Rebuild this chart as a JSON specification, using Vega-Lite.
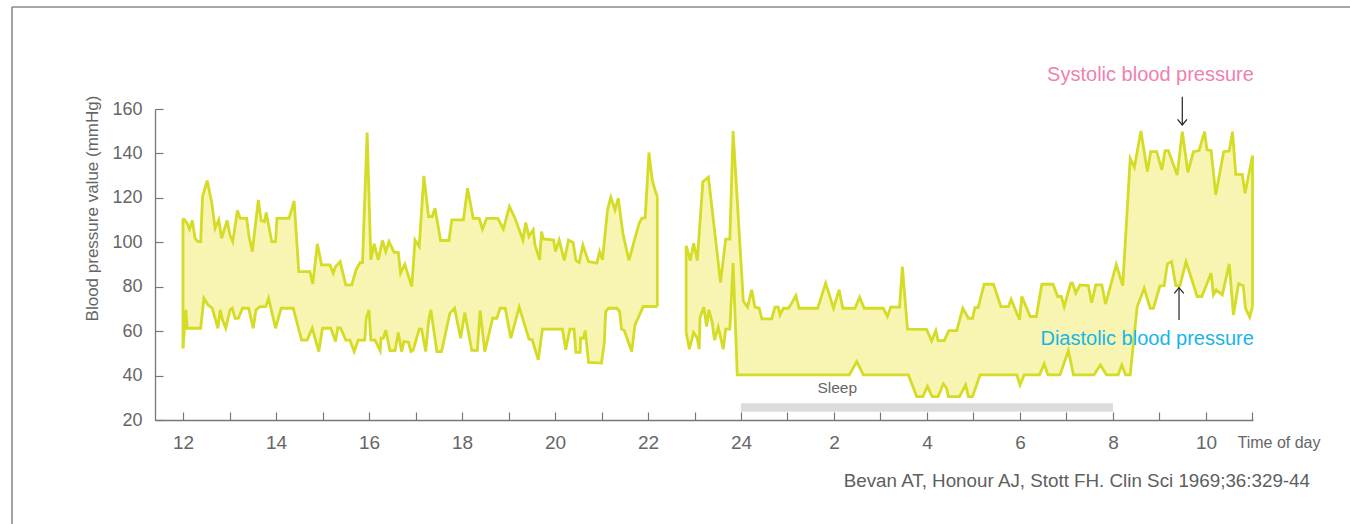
{
  "$schema": "https://vega.github.io/schema/vega-lite/v6.json",
  "width": 1098,
  "height": 311,
  "autosize": {"type": "none"},
  "padding": {"left": 155, "top": 109, "right": 97, "bottom": 104},
  "background": "white",
  "config": {"view": {"stroke": null}},
  "datasets": {
    "bp": [
      {"s":"S","g":1,"t":12.0,"v":110.8},{"s":"S","g":1,"t":12.08,"v":108.9},{"s":"S","g":1,"t":12.14,"v":105.9},{"s":"S","g":1,"t":12.2,"v":109.8},{"s":"S","g":1,"t":12.26,"v":101.8},{"s":"S","g":1,"t":12.32,"v":100.3},{"s":"S","g":1,"t":12.38,"v":100.3},{"s":"S","g":1,"t":12.42,"v":120.6},{"s":"S","g":1,"t":12.52,"v":127.8},{"s":"S","g":1,"t":12.62,"v":117.6},{"s":"S","g":1,"t":12.69,"v":106.3},{"s":"S","g":1,"t":12.77,"v":110.1},{"s":"S","g":1,"t":12.83,"v":101.8},{"s":"S","g":1,"t":12.95,"v":109.8},{"s":"S","g":1,"t":13.01,"v":103.3},{"s":"S","g":1,"t":13.07,"v":100.3},{"s":"S","g":1,"t":13.17,"v":114.3},{"s":"S","g":1,"t":13.23,"v":110.8},{"s":"S","g":1,"t":13.37,"v":110.8},{"s":"S","g":1,"t":13.42,"v":102.6},{"s":"S","g":1,"t":13.49,"v":95.8},{"s":"S","g":1,"t":13.62,"v":119.1},{"s":"S","g":1,"t":13.68,"v":109.8},{"s":"S","g":1,"t":13.75,"v":109.3},{"s":"S","g":1,"t":13.79,"v":113.4},{"s":"S","g":1,"t":13.91,"v":100.3},{"s":"S","g":1,"t":13.99,"v":100.3},{"s":"S","g":1,"t":14.02,"v":110.8},{"s":"S","g":1,"t":14.28,"v":110.8},{"s":"S","g":1,"t":14.39,"v":118.6},{"s":"S","g":1,"t":14.49,"v":86.8},{"s":"S","g":1,"t":14.73,"v":86.8},{"s":"S","g":1,"t":14.79,"v":81.3},{"s":"S","g":1,"t":14.89,"v":99.3},{"s":"S","g":1,"t":14.98,"v":89.8},{"s":"S","g":1,"t":15.16,"v":89.8},{"s":"S","g":1,"t":15.23,"v":86.1},{"s":"S","g":1,"t":15.28,"v":89.1},{"s":"S","g":1,"t":15.38,"v":91.3},{"s":"S","g":1,"t":15.5,"v":80.8},{"s":"S","g":1,"t":15.63,"v":80.8},{"s":"S","g":1,"t":15.72,"v":87.6},{"s":"S","g":1,"t":15.81,"v":90.9},{"s":"S","g":1,"t":15.86,"v":90.9},{"s":"S","g":1,"t":15.96,"v":149.4},{"s":"S","g":1,"t":16.04,"v":92.1},{"s":"S","g":1,"t":16.11,"v":99.3},{"s":"S","g":1,"t":16.2,"v":92.1},{"s":"S","g":1,"t":16.29,"v":100.8},{"s":"S","g":1,"t":16.36,"v":95.8},{"s":"S","g":1,"t":16.43,"v":100.3},{"s":"S","g":1,"t":16.54,"v":95.5},{"s":"S","g":1,"t":16.63,"v":95.5},{"s":"S","g":1,"t":16.68,"v":86.1},{"s":"S","g":1,"t":16.77,"v":90.1},{"s":"S","g":1,"t":16.92,"v":80.1},{"s":"S","g":1,"t":16.99,"v":101.0},{"s":"S","g":1,"t":17.08,"v":98.1},{"s":"S","g":1,"t":17.18,"v":129.9},{"s":"S","g":1,"t":17.28,"v":111.6},{"s":"S","g":1,"t":17.36,"v":111.6},{"s":"S","g":1,"t":17.42,"v":115.3},{"s":"S","g":1,"t":17.54,"v":100.8},{"s":"S","g":1,"t":17.72,"v":100.8},{"s":"S","g":1,"t":17.78,"v":110.1},{"s":"S","g":1,"t":18.03,"v":110.1},{"s":"S","g":1,"t":18.12,"v":124.3},{"s":"S","g":1,"t":18.24,"v":110.8},{"s":"S","g":1,"t":18.37,"v":110.8},{"s":"S","g":1,"t":18.44,"v":105.9},{"s":"S","g":1,"t":18.53,"v":110.8},{"s":"S","g":1,"t":18.77,"v":110.8},{"s":"S","g":1,"t":18.89,"v":105.9},{"s":"S","g":1,"t":19.02,"v":116.1},{"s":"S","g":1,"t":19.14,"v":110.8},{"s":"S","g":1,"t":19.31,"v":101.0},{"s":"S","g":1,"t":19.37,"v":108.9},{"s":"S","g":1,"t":19.44,"v":102.6},{"s":"S","g":1,"t":19.53,"v":105.6},{"s":"S","g":1,"t":19.57,"v":98.8},{"s":"S","g":1,"t":19.67,"v":92.1},{"s":"S","g":1,"t":19.71,"v":104.8},{"s":"S","g":1,"t":19.75,"v":101.5},{"s":"S","g":1,"t":19.97,"v":101.0},{"s":"S","g":1,"t":20.01,"v":95.8},{"s":"S","g":1,"t":20.09,"v":101.0},{"s":"S","g":1,"t":20.2,"v":91.8},{"s":"S","g":1,"t":20.29,"v":101.0},{"s":"S","g":1,"t":20.39,"v":99.9},{"s":"S","g":1,"t":20.45,"v":91.8},{"s":"S","g":1,"t":20.52,"v":90.9},{"s":"S","g":1,"t":20.6,"v":98.8},{"s":"S","g":1,"t":20.72,"v":91.3},{"s":"S","g":1,"t":20.9,"v":90.6},{"s":"S","g":1,"t":20.96,"v":95.8},{"s":"S","g":1,"t":21.02,"v":92.1},{"s":"S","g":1,"t":21.13,"v":114.6},{"s":"S","g":1,"t":21.2,"v":120.3},{"s":"S","g":1,"t":21.29,"v":114.6},{"s":"S","g":1,"t":21.36,"v":119.8},{"s":"S","g":1,"t":21.46,"v":104.1},{"s":"S","g":1,"t":21.59,"v":91.8},{"s":"S","g":1,"t":21.69,"v":99.6},{"s":"S","g":1,"t":21.81,"v":108.6},{"s":"S","g":1,"t":21.87,"v":110.8},{"s":"S","g":1,"t":21.94,"v":111.1},{"s":"S","g":1,"t":22.02,"v":140.4},{"s":"S","g":1,"t":22.09,"v":128.1},{"s":"S","g":1,"t":22.15,"v":123.6},{"s":"S","g":1,"t":22.2,"v":120.6},
      {"s":"D","g":1,"t":12.0,"v":52.3},{"s":"D","g":1,"t":12.06,"v":69.6},{"s":"D","g":1,"t":12.09,"v":61.3},{"s":"D","g":1,"t":12.38,"v":61.3},{"s":"D","g":1,"t":12.45,"v":74.8},{"s":"D","g":1,"t":12.54,"v":71.8},{"s":"D","g":1,"t":12.63,"v":70.3},{"s":"D","g":1,"t":12.69,"v":65.8},{"s":"D","g":1,"t":12.75,"v":61.3},{"s":"D","g":1,"t":12.8,"v":69.6},{"s":"D","g":1,"t":12.85,"v":65.0},{"s":"D","g":1,"t":12.92,"v":61.3},{"s":"D","g":1,"t":13.01,"v":69.6},{"s":"D","g":1,"t":13.06,"v":70.3},{"s":"D","g":1,"t":13.12,"v":65.8},{"s":"D","g":1,"t":13.19,"v":65.8},{"s":"D","g":1,"t":13.28,"v":70.3},{"s":"D","g":1,"t":13.41,"v":70.3},{"s":"D","g":1,"t":13.51,"v":61.3},{"s":"D","g":1,"t":13.57,"v":69.6},{"s":"D","g":1,"t":13.66,"v":71.0},{"s":"D","g":1,"t":13.78,"v":71.0},{"s":"D","g":1,"t":13.84,"v":74.8},{"s":"D","g":1,"t":13.99,"v":61.3},{"s":"D","g":1,"t":14.11,"v":70.3},{"s":"D","g":1,"t":14.37,"v":70.3},{"s":"D","g":1,"t":14.55,"v":56.0},{"s":"D","g":1,"t":14.67,"v":56.0},{"s":"D","g":1,"t":14.78,"v":61.3},{"s":"D","g":1,"t":14.92,"v":50.8},{"s":"D","g":1,"t":15.0,"v":61.3},{"s":"D","g":1,"t":15.18,"v":61.3},{"s":"D","g":1,"t":15.28,"v":55.3},{"s":"D","g":1,"t":15.33,"v":61.6},{"s":"D","g":1,"t":15.39,"v":61.3},{"s":"D","g":1,"t":15.5,"v":56.0},{"s":"D","g":1,"t":15.59,"v":56.0},{"s":"D","g":1,"t":15.68,"v":50.8},{"s":"D","g":1,"t":15.77,"v":56.0},{"s":"D","g":1,"t":15.91,"v":56.0},{"s":"D","g":1,"t":15.94,"v":65.8},{"s":"D","g":1,"t":16.0,"v":69.6},{"s":"D","g":1,"t":16.04,"v":56.0},{"s":"D","g":1,"t":16.13,"v":56.0},{"s":"D","g":1,"t":16.24,"v":51.2},{"s":"D","g":1,"t":16.26,"v":56.8},{"s":"D","g":1,"t":16.31,"v":56.8},{"s":"D","g":1,"t":16.36,"v":60.5},{"s":"D","g":1,"t":16.45,"v":51.2},{"s":"D","g":1,"t":16.56,"v":51.2},{"s":"D","g":1,"t":16.63,"v":59.4},{"s":"D","g":1,"t":16.7,"v":50.8},{"s":"D","g":1,"t":16.75,"v":55.3},{"s":"D","g":1,"t":16.85,"v":55.0},{"s":"D","g":1,"t":16.9,"v":50.8},{"s":"D","g":1,"t":16.95,"v":51.5},{"s":"D","g":1,"t":17.08,"v":60.9},{"s":"D","g":1,"t":17.13,"v":60.9},{"s":"D","g":1,"t":17.22,"v":50.8},{"s":"D","g":1,"t":17.28,"v":64.3},{"s":"D","g":1,"t":17.33,"v":69.6},{"s":"D","g":1,"t":17.46,"v":50.8},{"s":"D","g":1,"t":17.56,"v":50.8},{"s":"D","g":1,"t":17.74,"v":68.1},{"s":"D","g":1,"t":17.84,"v":70.3},{"s":"D","g":1,"t":17.97,"v":56.8},{"s":"D","g":1,"t":18.06,"v":68.4},{"s":"D","g":1,"t":18.21,"v":51.3},{"s":"D","g":1,"t":18.33,"v":51.3},{"s":"D","g":1,"t":18.39,"v":69.3},{"s":"D","g":1,"t":18.49,"v":50.8},{"s":"D","g":1,"t":18.66,"v":65.8},{"s":"D","g":1,"t":18.75,"v":65.8},{"s":"D","g":1,"t":18.82,"v":70.3},{"s":"D","g":1,"t":18.93,"v":70.3},{"s":"D","g":1,"t":19.05,"v":56.8},{"s":"D","g":1,"t":19.23,"v":70.8},{"s":"D","g":1,"t":19.44,"v":56.4},{"s":"D","g":1,"t":19.51,"v":56.1},{"s":"D","g":1,"t":19.64,"v":47.1},{"s":"D","g":1,"t":19.73,"v":60.9},{"s":"D","g":1,"t":20.16,"v":60.9},{"s":"D","g":1,"t":20.23,"v":51.6},{"s":"D","g":1,"t":20.32,"v":60.9},{"s":"D","g":1,"t":20.41,"v":60.9},{"s":"D","g":1,"t":20.45,"v":50.4},{"s":"D","g":1,"t":20.54,"v":50.4},{"s":"D","g":1,"t":20.55,"v":56.8},{"s":"D","g":1,"t":20.61,"v":56.8},{"s":"D","g":1,"t":20.65,"v":60.3},{"s":"D","g":1,"t":20.72,"v":45.9},{"s":"D","g":1,"t":21.0,"v":45.6},{"s":"D","g":1,"t":21.06,"v":54.6},{"s":"D","g":1,"t":21.09,"v":68.8},{"s":"D","g":1,"t":21.15,"v":70.3},{"s":"D","g":1,"t":21.33,"v":70.3},{"s":"D","g":1,"t":21.39,"v":68.8},{"s":"D","g":1,"t":21.43,"v":60.9},{"s":"D","g":1,"t":21.49,"v":60.3},{"s":"D","g":1,"t":21.65,"v":50.8},{"s":"D","g":1,"t":21.72,"v":62.8},{"s":"D","g":1,"t":21.9,"v":71.1},{"s":"D","g":1,"t":22.2,"v":71.1},
      {"s":"S","g":2,"t":22.82,"v":98.4},{"s":"S","g":2,"t":22.91,"v":91.8},{"s":"S","g":2,"t":22.98,"v":99.6},{"s":"S","g":2,"t":23.06,"v":91.8},{"s":"S","g":2,"t":23.18,"v":127.3},{"s":"S","g":2,"t":23.3,"v":129.3},{"s":"S","g":2,"t":23.56,"v":81.9},{"s":"S","g":2,"t":23.67,"v":101.4},{"s":"S","g":2,"t":23.76,"v":101.4},{"s":"S","g":2,"t":23.83,"v":150.1},{"s":"S","g":2,"t":24.05,"v":73.6},{"s":"S","g":2,"t":24.14,"v":70.8},{"s":"S","g":2,"t":24.23,"v":78.6},{"s":"S","g":2,"t":24.3,"v":70.8},{"s":"S","g":2,"t":24.39,"v":70.3},{"s":"S","g":2,"t":24.45,"v":65.5},{"s":"S","g":2,"t":24.66,"v":65.5},{"s":"S","g":2,"t":24.73,"v":70.8},{"s":"S","g":2,"t":24.8,"v":70.8},{"s":"S","g":2,"t":24.84,"v":67.3},{"s":"S","g":2,"t":24.91,"v":70.3},{"s":"S","g":2,"t":25.02,"v":70.3},{"s":"S","g":2,"t":25.09,"v":72.6},{"s":"S","g":2,"t":25.18,"v":76.0},{"s":"S","g":2,"t":25.25,"v":70.3},{"s":"S","g":2,"t":25.65,"v":70.3},{"s":"S","g":2,"t":25.82,"v":81.6},{"s":"S","g":2,"t":25.99,"v":70.3},{"s":"S","g":2,"t":26.11,"v":78.6},{"s":"S","g":2,"t":26.19,"v":70.3},{"s":"S","g":2,"t":26.45,"v":70.3},{"s":"S","g":2,"t":26.55,"v":75.3},{"s":"S","g":2,"t":26.65,"v":70.3},{"s":"S","g":2,"t":27.06,"v":70.3},{"s":"S","g":2,"t":27.15,"v":66.6},{"s":"S","g":2,"t":27.22,"v":70.8},{"s":"S","g":2,"t":27.41,"v":70.8},{"s":"S","g":2,"t":27.47,"v":89.1},{"s":"S","g":2,"t":27.58,"v":60.9},{"s":"S","g":2,"t":27.99,"v":60.8},{"s":"S","g":2,"t":28.1,"v":55.6},{"s":"S","g":2,"t":28.19,"v":60.2},{"s":"S","g":2,"t":28.24,"v":55.7},{"s":"S","g":2,"t":28.37,"v":55.7},{"s":"S","g":2,"t":28.47,"v":60.2},{"s":"S","g":2,"t":28.64,"v":60.2},{"s":"S","g":2,"t":28.77,"v":70.3},{"s":"S","g":2,"t":28.89,"v":65.8},{"s":"S","g":2,"t":28.98,"v":65.8},{"s":"S","g":2,"t":29.03,"v":70.6},{"s":"S","g":2,"t":29.1,"v":70.6},{"s":"S","g":2,"t":29.23,"v":81.1},{"s":"S","g":2,"t":29.43,"v":81.1},{"s":"S","g":2,"t":29.59,"v":71.0},{"s":"S","g":2,"t":29.75,"v":71.0},{"s":"S","g":2,"t":29.81,"v":74.3},{"s":"S","g":2,"t":29.99,"v":65.1},{"s":"S","g":2,"t":30.04,"v":75.6},{"s":"S","g":2,"t":30.22,"v":66.6},{"s":"S","g":2,"t":30.35,"v":66.6},{"s":"S","g":2,"t":30.47,"v":81.1},{"s":"S","g":2,"t":30.71,"v":81.1},{"s":"S","g":2,"t":30.81,"v":75.6},{"s":"S","g":2,"t":30.89,"v":75.6},{"s":"S","g":2,"t":30.95,"v":71.0},{"s":"S","g":2,"t":31.09,"v":81.6},{"s":"S","g":2,"t":31.13,"v":81.6},{"s":"S","g":2,"t":31.2,"v":77.1},{"s":"S","g":2,"t":31.29,"v":80.8},{"s":"S","g":2,"t":31.47,"v":80.5},{"s":"S","g":2,"t":31.54,"v":72.8},{"s":"S","g":2,"t":31.63,"v":80.8},{"s":"S","g":2,"t":31.76,"v":80.8},{"s":"S","g":2,"t":31.84,"v":72.2},{"s":"S","g":2,"t":32.07,"v":90.0},{"s":"S","g":2,"t":32.21,"v":80.5},{"s":"S","g":2,"t":32.37,"v":137.7},{"s":"S","g":2,"t":32.46,"v":133.8},{"s":"S","g":2,"t":32.6,"v":150.1},{"s":"S","g":2,"t":32.74,"v":131.8},{"s":"S","g":2,"t":32.81,"v":140.8},{"s":"S","g":2,"t":32.94,"v":140.8},{"s":"S","g":2,"t":33.05,"v":132.6},{"s":"S","g":2,"t":33.12,"v":141.3},{"s":"S","g":2,"t":33.19,"v":141.3},{"s":"S","g":2,"t":33.38,"v":130.3},{"s":"S","g":2,"t":33.49,"v":149.8},{"s":"S","g":2,"t":33.61,"v":131.5},{"s":"S","g":2,"t":33.73,"v":140.8},{"s":"S","g":2,"t":33.85,"v":141.3},{"s":"S","g":2,"t":33.97,"v":149.8},{"s":"S","g":2,"t":34.02,"v":141.6},{"s":"S","g":2,"t":34.11,"v":141.3},{"s":"S","g":2,"t":34.21,"v":121.3},{"s":"S","g":2,"t":34.38,"v":140.8},{"s":"S","g":2,"t":34.5,"v":141.1},{"s":"S","g":2,"t":34.57,"v":149.8},{"s":"S","g":2,"t":34.64,"v":130.6},{"s":"S","g":2,"t":34.78,"v":130.6},{"s":"S","g":2,"t":34.84,"v":122.1},{"s":"S","g":2,"t":35.0,"v":139.0},
      {"s":"D","g":2,"t":22.82,"v":59.4},{"s":"D","g":2,"t":22.89,"v":51.9},{"s":"D","g":2,"t":22.98,"v":59.4},{"s":"D","g":2,"t":23.06,"v":56.8},{"s":"D","g":2,"t":23.1,"v":51.9},{"s":"D","g":2,"t":23.12,"v":66.3},{"s":"D","g":2,"t":23.2,"v":70.8},{"s":"D","g":2,"t":23.26,"v":62.1},{"s":"D","g":2,"t":23.31,"v":69.6},{"s":"D","g":2,"t":23.38,"v":63.9},{"s":"D","g":2,"t":23.43,"v":56.0},{"s":"D","g":2,"t":23.51,"v":61.8},{"s":"D","g":2,"t":23.62,"v":51.9},{"s":"D","g":2,"t":23.67,"v":60.9},{"s":"D","g":2,"t":23.76,"v":60.9},{"s":"D","g":2,"t":23.83,"v":90.6},{"s":"D","g":2,"t":23.92,"v":40.3},{"s":"D","g":2,"t":26.33,"v":40.3},{"s":"D","g":2,"t":26.49,"v":46.3},{"s":"D","g":2,"t":26.63,"v":40.3},{"s":"D","g":2,"t":27.6,"v":40.3},{"s":"D","g":2,"t":27.78,"v":30.5},{"s":"D","g":2,"t":27.91,"v":30.5},{"s":"D","g":2,"t":28.01,"v":35.1},{"s":"D","g":2,"t":28.11,"v":30.5},{"s":"D","g":2,"t":28.24,"v":30.5},{"s":"D","g":2,"t":28.35,"v":36.3},{"s":"D","g":2,"t":28.42,"v":34.3},{"s":"D","g":2,"t":28.46,"v":30.5},{"s":"D","g":2,"t":28.7,"v":30.5},{"s":"D","g":2,"t":28.83,"v":35.8},{"s":"D","g":2,"t":28.89,"v":30.5},{"s":"D","g":2,"t":28.98,"v":30.5},{"s":"D","g":2,"t":29.14,"v":40.3},{"s":"D","g":2,"t":29.93,"v":40.3},{"s":"D","g":2,"t":30.0,"v":35.8},{"s":"D","g":2,"t":30.09,"v":40.3},{"s":"D","g":2,"t":30.42,"v":40.3},{"s":"D","g":2,"t":30.52,"v":45.2},{"s":"D","g":2,"t":30.6,"v":40.3},{"s":"D","g":2,"t":30.86,"v":40.3},{"s":"D","g":2,"t":31.04,"v":51.2},{"s":"D","g":2,"t":31.15,"v":40.3},{"s":"D","g":2,"t":31.59,"v":40.3},{"s":"D","g":2,"t":31.73,"v":44.8},{"s":"D","g":2,"t":31.86,"v":40.3},{"s":"D","g":2,"t":32.11,"v":40.3},{"s":"D","g":2,"t":32.19,"v":44.8},{"s":"D","g":2,"t":32.27,"v":40.3},{"s":"D","g":2,"t":32.37,"v":40.3},{"s":"D","g":2,"t":32.52,"v":71.0},{"s":"D","g":2,"t":32.67,"v":79.3},{"s":"D","g":2,"t":32.8,"v":70.3},{"s":"D","g":2,"t":32.87,"v":70.3},{"s":"D","g":2,"t":33.01,"v":80.4},{"s":"D","g":2,"t":33.1,"v":80.5},{"s":"D","g":2,"t":33.17,"v":90.3},{"s":"D","g":2,"t":33.26,"v":91.3},{"s":"D","g":2,"t":33.35,"v":80.5},{"s":"D","g":2,"t":33.44,"v":80.5},{"s":"D","g":2,"t":33.57,"v":91.3},{"s":"D","g":2,"t":33.81,"v":75.6},{"s":"D","g":2,"t":33.91,"v":75.6},{"s":"D","g":2,"t":34.11,"v":86.1},{"s":"D","g":2,"t":34.16,"v":76.3},{"s":"D","g":2,"t":34.22,"v":78.6},{"s":"D","g":2,"t":34.35,"v":76.3},{"s":"D","g":2,"t":34.5,"v":90.3},{"s":"D","g":2,"t":34.59,"v":67.3},{"s":"D","g":2,"t":34.7,"v":81.3},{"s":"D","g":2,"t":34.8,"v":80.4},{"s":"D","g":2,"t":34.85,"v":70.3},{"s":"D","g":2,"t":34.94,"v":66.3},{"s":"D","g":2,"t":35.0,"v":71.0}
    ],
    "ends": [
      {"t": 12.0, "hi": 110.8, "lo": 52.3},
      {"t": 22.2, "hi": 120.6, "lo": 71.1},
      {"t": 22.82, "hi": 98.4, "lo": 59.4},
      {"t": 35.0, "hi": 139.0, "lo": 71.0}
    ],
    "one": [{}]
  },
  "layer": [
    {
      "data": {"name": "bp"},
      "transform": [{"filter": "datum.s == 'S'"}],
      "mark": {"type": "area", "fill": "#f8f4b2", "stroke": null},
      "encoding": {
        "x": {
          "field": "t", "type": "quantitative",
          "scale": {"domain": [11.3978, 35.0108], "nice": false, "zero": false},
          "axis": {
            "values": [12,13,14,15,16,17,18,19,20,21,22,23,24,25,26,27,28,29,30,31,32,33,34,35],
            "labelExpr": "datum.value % 2 == 0 ? '' + (datum.value > 24 ? datum.value - 24 : datum.value) : ''",
            "grid": false, "zindex": 1,
            "tickSize": -8, "tickColor": "#777777", "tickWidth": 1.2,
            "domainColor": "#777777", "domainWidth": 1.3,
            "labelFont": "Liberation Sans", "labelFontSize": 19, "labelColor": "#666666",
            "labelPadding": 21, "labelOverlap": false, "labelFlush": false,
            "title": "Time of day", "titleFont": "Liberation Sans", "titleFontSize": 16,
            "titleFontWeight": "normal", "titleColor": "#666666",
            "titleX": 1082, "titleY": 22, "titleAlign": "left", "titleBaseline": "middle"
          }
        },
        "y": {
          "field": "v", "type": "quantitative",
          "scale": {"domain": [20, 160], "nice": false, "zero": false},
          "axis": {
            "values": [20,30,40,50,60,70,80,90,100,110,120,130,140,150,160],
            "labelExpr": "datum.value % 20 == 0 ? datum.label : ''",
            "grid": false, "zindex": 1,
            "tickSize": -8, "tickColor": "#777777", "tickWidth": 1.2,
            "domainColor": "#777777", "domainWidth": 1.3,
            "labelFont": "Liberation Sans", "labelFontSize": 18, "labelColor": "#666666",
            "labelPadding": 21, "labelOverlap": false, "labelFlush": false,
            "title": "Blood pressure value (mmHg)", "titleFont": "Liberation Sans", "titleFontSize": 17,
            "titleFontWeight": "normal", "titleColor": "#666666",
            "titleX": -63, "titleY": 99, "titleAngle": -90, "titleAlign": "center", "titleBaseline": "middle"
          }
        },
        "y2": {"datum": 20},
        "detail": {"field": "g"}
      }
    },
    {
      "data": {"name": "bp"},
      "transform": [{"filter": "datum.s == 'D'"}],
      "mark": {"type": "area", "fill": "white", "stroke": "white", "strokeWidth": 1.5},
      "encoding": {
        "x": {"field": "t", "type": "quantitative"},
        "y": {"field": "v", "type": "quantitative"},
        "y2": {"datum": 20},
        "detail": {"field": "g"}
      }
    },
    {
      "data": {"name": "bp"},
      "mark": {"type": "line", "stroke": "#d4dc26", "strokeWidth": 2.8},
      "encoding": {
        "x": {"field": "t", "type": "quantitative"},
        "y": {"field": "v", "type": "quantitative"},
        "detail": [{"field": "s"}, {"field": "g"}]
      }
    },
    {
      "data": {"name": "ends"},
      "mark": {"type": "rule", "stroke": "#d4dc26", "strokeWidth": 2.8},
      "encoding": {
        "x": {"field": "t", "type": "quantitative"},
        "y": {"field": "hi", "type": "quantitative"},
        "y2": {"field": "lo"}
      }
    },
    {
      "data": {"name": "one"},
      "mark": {"type": "rect", "fill": "#dcdcdc"},
      "encoding": {
        "x": {"datum": 24},
        "x2": {"datum": 32},
        "y": {"datum": 23.7},
        "y2": {"datum": 27.5}
      }
    },
    {
      "data": {"name": "one"},
      "mark": {"type": "text", "text": "Sleep", "font": "Liberation Sans", "fontSize": 15.5, "color": "#666666", "align": "center", "baseline": "middle"},
      "encoding": {"x": {"datum": 26.07}, "y": {"datum": 34.4}}
    },
    {
      "data": {"name": "one"},
      "mark": {"type": "text", "text": "Systolic blood pressure", "font": "Liberation Sans", "fontSize": 20, "color": "#f07fb1", "align": "right", "baseline": "middle"},
      "encoding": {"x": {"datum": 35.03}, "y": {"datum": 175.5}}
    },
    {
      "data": {"name": "one"},
      "mark": {"type": "text", "text": "Diastolic blood pressure", "font": "Liberation Sans", "fontSize": 20, "color": "#17b6e6", "align": "right", "baseline": "middle"},
      "encoding": {"x": {"datum": 35.03}, "y": {"datum": 56.5}}
    },
    {
      "data": {"name": "one"},
      "mark": {"type": "rule", "stroke": "#222222", "strokeWidth": 1.2},
      "encoding": {"x": {"datum": 33.49}, "y": {"datum": 165.5}, "y2": {"datum": 152.8}}
    },
    {
      "data": {"name": "one"},
      "mark": {"type": "point", "shape": "M-1,-1.2L0,0L1,-1.2", "filled": false, "stroke": "#222222", "strokeWidth": 1.2, "size": 90, "opacity": 1},
      "encoding": {"x": {"datum": 33.49}, "y": {"datum": 152.8}}
    },
    {
      "data": {"name": "one"},
      "mark": {"type": "rule", "stroke": "#222222", "strokeWidth": 1.2},
      "encoding": {"x": {"datum": 33.42}, "y": {"datum": 79.6}, "y2": {"datum": 65.0}}
    },
    {
      "data": {"name": "one"},
      "mark": {"type": "point", "shape": "M-1,1.2L0,0L1,1.2", "filled": false, "stroke": "#222222", "strokeWidth": 1.2, "size": 90, "opacity": 1},
      "encoding": {"x": {"datum": 33.42}, "y": {"datum": 79.6}}
    },
    {
      "data": {"name": "one"},
      "mark": {"type": "text", "text": "Bevan AT, Honour AJ, Stott FH. Clin Sci 1969;36:329-44", "font": "Liberation Sans", "fontSize": 18.8, "color": "#5e5e5e", "align": "right", "baseline": "middle"},
      "encoding": {"x": {"datum": 36.237}, "y": {"datum": -7.46}}
    },
    {
      "data": {"name": "one"},
      "mark": {"type": "rule", "stroke": "#a8a8a8", "strokeWidth": 2},
      "encoding": {"x": {"datum": 8.3226}, "x2": {"datum": 38.5}, "y": {"datum": 205.92}}
    },
    {
      "data": {"name": "one"},
      "mark": {"type": "rule", "stroke": "#666666", "strokeWidth": 1.2},
      "encoding": {"x": {"datum": 8.3226}, "y": {"datum": 205.92}, "y2": {"datum": -40}}
    }
  ]
}
